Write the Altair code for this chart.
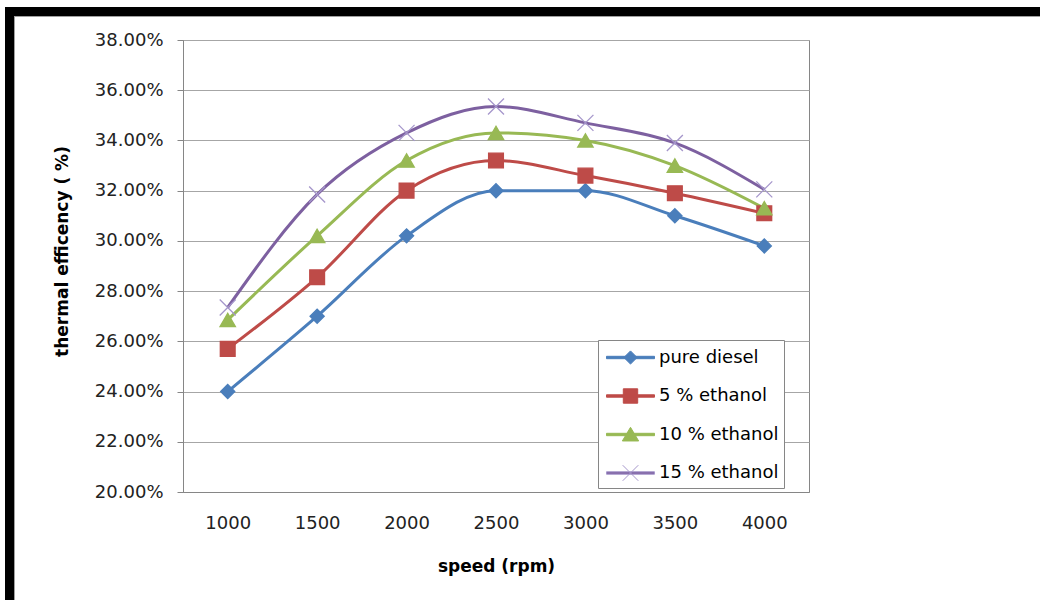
import altair as alt
import pandas as pd

# ---------------- data ----------------
speeds = [1000, 1500, 2000, 2500, 3000, 3500, 4000]
series_names = ["pure diesel", "5 % ethanol", "10 % ethanol", "15 % ethanol"]
pure_diesel = [24.0, 27.0, 30.2, 32.0, 32.0, 31.0, 29.8]
ethanol_5 = [25.7, 28.55, 32.0, 33.2, 32.6, 31.9, 31.1]
ethanol_10 = [26.85, 30.2, 33.2, 34.3, 34.0, 33.0, 31.3]
ethanol_15 = [27.35, 31.85, 34.3, 35.35, 34.7, 33.9, 32.05]
y_ticks = [20, 22, 24, 26, 28, 30, 32, 34, 36, 38]

line_colors = ["#4A7EBB", "#BE4B48", "#98B954", "#7D60A0"]
marker_strokes = ["#4A7EBB", "#BE4B48", "#98B954", "#A596CB"]
marker_shapes = ["diamond", "square", "triangle-up", "M-1,-1L1,1M-1,1L1,-1"]
marker_sizes = [200, 256, 289, 256]

# legend glyphs: a short line with the series marker on it
_bar = "M-0.75,-0.1H3.25V0.1H-0.75Z"
legend_shapes = [
    _bar + "M1.25,-0.55L1.8,0L1.25,0.55L0.7,0Z",
    _bar + "M0.65,-0.6H1.85V0.6H0.65Z",
    _bar + "M1.25,-0.6L1.93,0.54H0.57Z",
    _bar + "M0.6,-0.65L1.9,0.65M0.6,0.65L1.9,-0.65",
]

rows = []
for name, vals in zip(series_names, [pure_diesel, ethanol_5, ethanol_10, ethanol_15]):
    for s, v in zip(speeds, vals):
        rows.append({"speed": s, "eff": v, "series": name, "lseries": name})
df = pd.DataFrame(rows)

FONT = "DejaVu Sans"
W, H = 626, 452
PAD = {"left": 183, "top": 40, "right": 1040 - 183 - W, "bottom": 600 - 40 - H}

x_enc = alt.X(
    "speed:O",
    scale=alt.Scale(type="point", padding=0.5),
    axis=alt.Axis(
        title="speed (rpm)", labelAngle=0, ticks=False, labelPadding=31,
        labelBaseline="middle", titleY=74, titleBaseline="middle",
        grid=False,
    ),
)
y_enc = alt.Y(
    "eff:Q",
    scale=alt.Scale(domain=[20, 38], nice=False, zero=False),
    axis=alt.Axis(
        values=y_ticks, labelExpr="format(datum.value, '.2f') + '%'",
        title="thermal efficency ( %)", tickSize=6, labelPadding=14,
        titleX=-121, titleY=211, titleBaseline="middle", titleAlign="center",
        grid=True,
    ),
)

base = alt.Chart(df)

lines = base.mark_line(strokeWidth=3, interpolate="monotone").encode(
    x=x_enc, y=y_enc,
    color=alt.Color("series:N", scale=alt.Scale(domain=series_names, range=line_colors), legend=None),
    detail="series:N",
)

points = base.mark_point(filled=True, opacity=1, strokeWidth=1.3).encode(
    x=x_enc, y=y_enc,
    fill=alt.Fill("series:N", scale=alt.Scale(domain=series_names, range=line_colors), legend=None),
    stroke=alt.Stroke("series:N", scale=alt.Scale(domain=series_names, range=marker_strokes), legend=None),
    shape=alt.Shape("series:N", scale=alt.Scale(domain=series_names, range=marker_shapes), legend=None),
    size=alt.Size("series:N", scale=alt.Scale(domain=series_names, range=marker_sizes), legend=None),
)

legend_def = alt.Legend(
    title=None, orient="none", legendX=415, legendY=300,
    symbolSize=576, symbolStrokeWidth=1, labelFont=FONT, labelFontSize=18,
    labelColor="black", labelOffset=31, rowPadding=16.5, padding=5,
    strokeColor="#868686", fillColor="white", symbolOpacity=1,
)

legend_layer = base.transform_filter("false").mark_point(filled=True, opacity=1, size=576).encode(
    fill=alt.Fill("lseries:N", scale=alt.Scale(domain=series_names, range=line_colors), legend=legend_def),
    stroke=alt.Stroke("lseries:N", scale=alt.Scale(domain=series_names, range=marker_strokes), legend=legend_def),
    shape=alt.Shape("lseries:N", scale=alt.Scale(domain=series_names, range=legend_shapes), legend=legend_def),
)

frame_df = pd.DataFrame({"k": [0]})
fr = alt.Chart(frame_df)
top_bar = fr.mark_rect(color="black").encode(
    x=alt.value(-178), x2=alt.value(857), y=alt.value(-33), y2=alt.value(-24))
top_edge = fr.mark_rect(color="#a0a0a0").encode(
    x=alt.value(-169), x2=alt.value(857), y=alt.value(-24), y2=alt.value(-23))
left_bar = fr.mark_rect(color="black").encode(
    x=alt.value(-178), x2=alt.value(-169), y=alt.value(-33), y2=alt.value(560))
left_edge = fr.mark_rect(color="#a0a0a0").encode(
    x=alt.value(-169), x2=alt.value(-168), y=alt.value(-23), y2=alt.value(560))

chart = alt.layer(
    top_bar, top_edge, left_bar, left_edge, lines, points, legend_layer
).resolve_scale(
    color="independent", fill="independent", stroke="independent",
    shape="independent", size="independent",
).properties(
    width=W, height=H,
    autosize=alt.AutoSizeParams(type="none"),
    padding=PAD,
    background="white",
).configure_view(
    stroke="#868686", strokeWidth=1,
).configure_axis(
    labelFont=FONT, labelFontSize=18, labelColor="#222222",
    titleFont=FONT, titleFontSize=17, titleFontWeight="bold", titleColor="black",
    domainColor="#868686", tickColor="#868686", gridColor="#a6a6a6",
    gridWidth=1, domainWidth=1,
)

chart.save("out.html", embed_options={"renderer": "svg", "actions": False})
